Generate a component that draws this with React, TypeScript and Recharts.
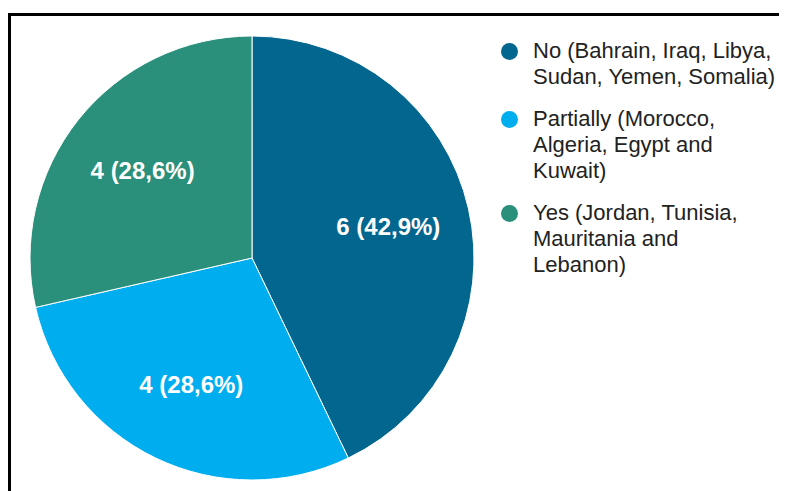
import React from 'react';
import { PieChart, Pie, Cell, Legend } from 'recharts';

const categories = ['No', 'Partially', 'Yes'];
const counts = [6, 4, 4];
const legendLines = [
    ['No (Bahrain, Iraq, Libya,', 'Sudan, Yemen, Somalia)'],
    ['Partially (Morocco,', 'Algeria, Egypt and', 'Kuwait)'],
    ['Yes (Jordan, Tunisia,', 'Mauritania and', 'Lebanon)'],
];
const sliceColors = ['#03668F', '#00AEEF', '#2A8F7B'];

const data = categories.map((name, i) => ({ name, value: counts[i] }));

const FONT = '"Liberation Sans", Arial, sans-serif';
const RADIAN = Math.PI / 180;

const renderLabel = (props: any) => {
    const { cx, cy, midAngle, outerRadius, value, percent } = props;
    const r = outerRadius * 0.63;
    const x = cx + r * Math.cos(-midAngle * RADIAN);
    const y = cy + r * Math.sin(-midAngle * RADIAN);
    const pct = (percent * 100).toFixed(1).replace('.', ',');
    return (
        <text x={x} y={y} fill="#fff" textAnchor="middle" dominantBaseline="central"
            style={{ fontFamily: FONT, fontSize: 24, fontWeight: 700 }}>
            {`${value} (${pct}%)`}
        </text>
    );
};

const renderLegend = () => (
    <div style={{ fontFamily: FONT, fontSize: 22, lineHeight: '26px', color: '#222' }}>
        {legendLines.map((lines, i) => (
            <div key={i} style={{ position: 'relative', paddingLeft: 32, marginBottom: 16 }}>
                <span style={{
                    position: 'absolute', left: 0, top: 4.5, width: 17, height: 17,
                    borderRadius: '50%', background: sliceColors[i],
                }} />
                {lines.map((l, j) => <div key={j} style={{ whiteSpace: 'nowrap' }}>{l}</div>)}
            </div>
        ))}
    </div>
);

export default function App() {
    return (
        <div style={{ paddingTop: 5 }}>
            <div style={{
                width: 776, height: 475, borderLeft: '3px solid #000', borderTop: '3px solid #000',
            }}>
                <PieChart width={776} height={475} margin={{ top: 0, right: 0, bottom: 0, left: 0 }}>
                    <Pie
                        data={data}
                        dataKey="value"
                        nameKey="name"
                        cx={241}
                        cy={242}
                        outerRadius={222}
                        startAngle={90}
                        endAngle={-270}
                        stroke="#fff"
                        strokeWidth={1}
                        labelLine={false}
                        label={renderLabel}
                        isAnimationActive={false}
                    >
                        {data.map((d, i) => <Cell key={d.name} fill={sliceColors[i]} />)}
                    </Pie>
                    <Legend content={renderLegend}
                        wrapperStyle={{ position: 'absolute', left: 490, top: 22, width: 285, height: 'auto' }} />
                </PieChart>
            </div>
        </div>
    );
}
